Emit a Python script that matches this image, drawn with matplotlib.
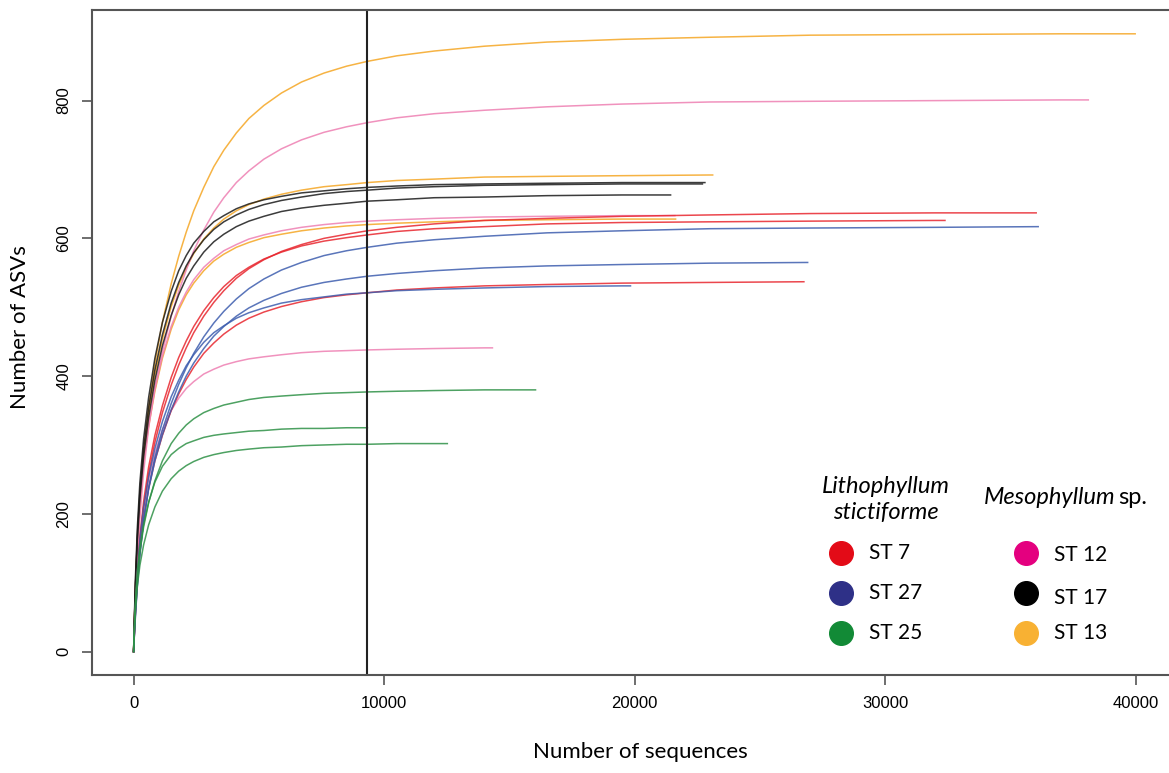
import matplotlib
matplotlib.use("Agg")
import matplotlib.pyplot as plt
from matplotlib.lines import Line2D

W, H = 1169, 773

# sequencing depths at which the rarefied ASV counts were read
X_GRID = [0, 25, 75, 150, 250, 400, 600, 850, 1150, 1500, 1800, 2100, 2400, 2800, 3200, 3600, 4100,
          4600, 5200, 5900, 6700, 7600, 8500, 9330, 10500, 12000, 14000, 16500, 19500, 23000, 27000,
          32000, 37000]

# ASVs at each X_GRID depth (up to the sample size), three replicates per station
ST13_ASV = [
    [0, 29, 79, 143, 210, 284, 355, 419, 478, 534, 574, 609, 640, 674, 704, 728, 753,
     774, 793, 811, 827, 840, 850, 857, 865, 872, 879, 885, 889, 892, 895, 896, 897],
    [0, 36, 95, 162, 225, 288, 347, 402, 454, 501, 532, 557, 578, 599, 615, 628, 640,
     649, 657, 664, 670, 675, 678, 681, 684, 686, 689, 690, 691, 692],
    [0, 35, 93, 156, 214, 273, 327, 378, 426, 468, 496, 518, 535, 553, 567, 577, 587,
     594, 601, 606, 611, 615, 618, 620, 622, 624, 626, 627, 628],
]
ST12_ASV = [
    [0, 27, 74, 133, 194, 261, 325, 383, 436, 487, 523, 554, 582, 612, 638, 659, 681,
     698, 715, 730, 743, 754, 762, 768, 775, 781, 786, 791, 795, 798, 799, 800, 801],
    [0, 35, 93, 157, 216, 275, 330, 381, 429, 472, 500, 522, 540, 558, 571, 582, 591,
     599, 605, 611, 616, 620, 623, 625, 627, 629, 631, 632, 633],
    [0, 30, 76, 125, 168, 210, 250, 288, 322, 350, 368, 382, 392, 403, 410, 416, 421,
     425, 428, 431, 434, 436, 437, 438, 439, 440, 441],
]
ST17_ASV = [
    [0, 42, 109, 180, 245, 309, 369, 426, 478, 523, 553, 575, 593, 610, 624, 633, 643,
     650, 656, 661, 666, 669, 672, 674, 676, 678, 679, 680, 681],
    [0, 38, 100, 169, 232, 295, 354, 409, 460, 506, 536, 560, 579, 598, 613, 624, 634,
     642, 649, 655, 660, 665, 668, 670, 673, 675, 677, 678, 679],
    [0, 36, 95, 161, 222, 283, 340, 394, 444, 488, 518, 542, 560, 580, 595, 606, 617,
     625, 632, 639, 644, 648, 651, 654, 656, 659, 660, 662, 663],
]
ST7_ASV = [
    [0, 21, 59, 106, 154, 208, 258, 304, 347, 387, 416, 441, 463, 487, 507, 524, 542,
     556, 569, 581, 591, 600, 606, 611, 616, 621, 626, 629, 632, 634, 636, 637],
    [0, 23, 64, 113, 164, 218, 268, 314, 357, 398, 427, 451, 472, 495, 514, 530, 546,
     558, 570, 580, 589, 596, 601, 605, 610, 614, 617, 621, 623, 624, 625, 626],
    [0, 21, 58, 102, 146, 193, 237, 277, 314, 350, 374, 395, 413, 433, 448, 461, 474,
     484, 493, 501, 508, 514, 518, 521, 525, 528, 531, 533, 535, 536],
]
ST27_ASV = [
    [0, 19, 52, 95, 140, 190, 238, 282, 322, 360, 388, 412, 433, 457, 477, 494, 512,
     527, 541, 554, 565, 575, 582, 587, 593, 598, 603, 608, 611, 614, 615, 616],
    [0, 20, 55, 98, 142, 191, 236, 277, 315, 351, 377, 400, 419, 440, 458, 472, 487,
     499, 510, 520, 529, 536, 541, 545, 549, 553, 557, 560, 562, 564],
    [0, 25, 67, 115, 162, 210, 254, 295, 334, 370, 394, 415, 431, 449, 463, 473, 484,
     492, 499, 506, 511, 515, 519, 521, 524, 526, 528, 530, 531],
]
ST25_ASV = [
    [0, 26, 66, 108, 144, 181, 216, 248, 277, 302, 317, 329, 338, 347, 353, 358, 362,
     366, 369, 371, 373, 375, 376, 377, 378, 379, 380],
    [0, 32, 76, 117, 151, 185, 217, 246, 269, 286, 295, 302, 306, 311, 314, 316, 318,
     320, 321, 323, 324, 324, 325],
    [0, 24, 60, 95, 125, 155, 184, 210, 233, 251, 262, 270, 276, 282, 286, 289, 292,
     294, 296, 297, 299, 300, 301, 301, 302, 302],
]

# total sequences and observed ASVs of each sample (curve end points)
ST13_END_SEQS = [39970, 23110, 21630]
ST13_END_ASV = [897, 692, 628]
ST12_END_SEQS = [38100, 21600, 14320]
ST12_END_ASV = [801, 633, 441]
ST17_END_SEQS = [22800, 22700, 21430]
ST17_END_ASV = [681, 679, 663]
ST7_END_SEQS = [36020, 32380, 26750]
ST7_END_ASV = [637, 626, 537]
ST27_END_SEQS = [36100, 26900, 19830]
ST27_END_ASV = [617, 565, 531]
ST25_END_SEQS = [16040, 9330, 12520]
ST25_END_ASV = [380, 325, 302]

RARE_DEPTH = 9330

groups = [
    (ST13_ASV, ST13_END_SEQS, ST13_END_ASV, "#F5A623"),
    (ST12_ASV, ST12_END_SEQS, ST12_END_ASV, "#EE7FB2"),
    (ST17_ASV, ST17_END_SEQS, ST17_END_ASV, "#1a1a1a"),
    (ST7_ASV, ST7_END_SEQS, ST7_END_ASV, "#E8262E"),
    (ST27_ASV, ST27_END_SEQS, ST27_END_ASV, "#3D5DAE"),
    (ST25_ASV, ST25_END_SEQS, ST25_END_ASV, "#2E9146"),
]

fig = plt.figure(figsize=(W / 100, H / 100), dpi=100)
ax = fig.add_axes([92 / W, 1 - 675 / H, 1083 / W, (675 - 9.7) / H])

for curves, end_seqs, end_asv, col in groups:
    for y, ne, se in zip(curves, end_seqs, end_asv):
        xs = X_GRID[:len(y)] + [ne]
        ys = y + [se]
        ax.plot(xs, ys, color=col, lw=1.1, alpha=0.85)

ax.axvline(RARE_DEPTH, color="#222222", lw=1.5)

ax.set_xlim(-1660, 41560)
ax.set_ylim(-34, 932)
ax.set_xticks([0, 10000, 20000, 30000, 40000])
ax.set_yticks([0, 200, 400, 600, 800])
ax.tick_params(length=7, width=1.2, color="#555555", labelsize=12, pad=8)
for lab in ax.get_xticklabels() + ax.get_yticklabels():
    lab.set_fontfamily("Liberation Sans")
for lab in ax.get_yticklabels():
    lab.set_rotation(90)
    lab.set_va("center")
for sp in ax.spines.values():
    sp.set_color("#555555")
    sp.set_linewidth(1.5)

fig.text(640 / W, 1 - 752 / H, "Number of sequences", family="Lato", fontsize=16,
         ha="center", va="center")
fig.text(20 / W, 1 - 327 / H, "Number of ASVs", family="Lato", fontsize=16,
         ha="center", va="center", rotation=90)

# legend, drawn by hand in two columns
fig.text(886 / W, 1 - 486 / H, "Lithophyllum", family="Lato", style="italic",
         fontsize=17, ha="center", va="center")
fig.text(886 / W, 1 - 513 / H, "stictiforme", family="Lato", style="italic",
         fontsize=17, ha="center", va="center")
fig.text(984 / W, 1 - 497 / H, "Mesophyllum", family="Lato", style="italic",
         fontsize=17, ha="left", va="center")
fig.text(1118 / W, 1 - 497 / H, "sp.", family="Lato", fontsize=17,
         ha="left", va="center")

leg_left = [("ST 7", "#E30B17", 553), ("ST 27", "#2E3087", 593), ("ST 25", "#128A36", 633)]
leg_right = [("ST 12", "#E4007F", 553, 555), ("ST 17", "#000000", 593, 598), ("ST 13", "#F8B133", 633, 633)]
for name, col, yy in leg_left:
    fig.add_artist(Line2D([841 / W], [1 - yy / H], marker="o", ms=17, color=col, ls=""))
    fig.text(869 / W, 1 - yy / H, name, family="Lato", fontsize=15, va="center")
for name, col, yy, ty in leg_right:
    fig.add_artist(Line2D([1026 / W], [1 - yy / H], marker="o", ms=17, color=col, ls=""))
    fig.text(1054 / W, 1 - ty / H, name, family="Lato", fontsize=15, va="center")

fig.savefig("out.png", dpi=100)
